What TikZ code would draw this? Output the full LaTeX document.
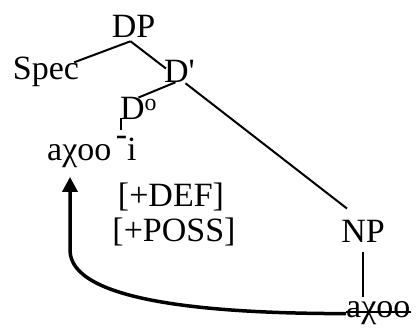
\documentclass[tikz,border=0pt]{standalone}
\usepackage{fontspec}
\setmainfont{Liberation Serif}
\usetikzlibrary{positioning}
\usetikzlibrary{arrows.meta}

\tikzset{
    word/.style = {inner sep=0pt, anchor=base, font=\fontsize{34}{40}\selectfont},
    branch/.style = {line width=2pt},
    strike/.style = {line width=1.4pt},
    movement/.style = {line width=3.5pt, -{Triangle[length=15pt,width=15pt]}}
}

\begin{document}
\begin{tikzpicture}[x=1pt, y=-1pt]
    \useasboundingbox (0,0) rectangle (416,329);

    % tree nodes
    \node[word] (DP) at (133.5, 38) {DP};
    \node[word] (Spec) at (46, 80) {Spec};
    \node[word] (Dbar) at (179.5, 83) {D\textquotesingle};
    \node[word] (Dzero) at (138.5, 120) {D\textsuperscript{o}};
    \node[word, anchor=base west] (morph) at (47, 161) {aχoo\hspace{0.13em}\raisebox{0.45em}[0pt][0pt]{-}i};
    \node[word] (def) at (171, 207) {[+DEF]};
    \node[word] (poss) at (174, 242) {[+POSS]};
    \node[word] (NP) at (363, 243) {NP};
    \node[word, anchor=base west] (gone) at (346, 318) {aχoo};

    % branches
    \draw[branch] ([shift={(-3,3)}]DP.south) -- ([shift={(-5,5)}]Spec.north east);
    \draw[branch] ([shift={(-3,3)}]DP.south) -- ([shift={(2,8)}]Dbar.north west);
    \draw[branch] ([shift={(-4,-1)}]Dbar.south) -- (Dzero.north);
    \draw[branch] ([shift={(6,0)}]Dbar.south) -- ([shift={(-16,-12)}]NP.north);
    \coordinate (barTop) at ([shift={(1,-2)}]Dzero.south west);
    \draw[branch] (barTop) -- ++(0,12);
    \draw[branch, shorten <=9pt, shorten >=5pt] (NP.south) -- (NP.south |- gone.north);

    % the lower copy is struck out
    \draw[strike] ([yshift=6pt]gone.base west) -- ([yshift=6pt]gone.base east);

    % head movement
    \coordinate (bend) at (70, 250);
    \draw[movement, shorten >=8.5pt] (gone.west) .. controls +(-145,0) and +(0,50) .. (bend)
        -- (bend |- morph.south);
\end{tikzpicture}
\end{document}
